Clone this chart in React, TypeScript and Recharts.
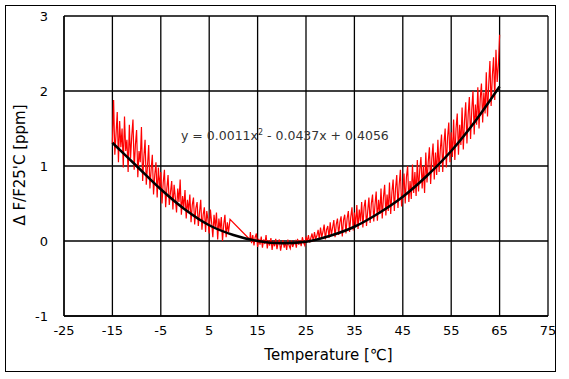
import { LineChart, Line, XAxis, YAxis, CartesianGrid } from "recharts";

// measured drift, [temperature °C, ppm]
const measured: [number, number][] = [
    [-15, 1.3], [-14.75, 1.88], [-14.5, 1.15], [-14.25, 1.42], [-14, 1.72], [-13.75, 1.05], [-13.5, 1.6], [-13.25, 1.25], [-13, 1.5], [-12.75, 0.98],
    [-12.5, 1.66], [-12.25, 1.2], [-12, 1.35], [-11.75, 0.92], [-11.5, 1.55], [-11.25, 1.1], [-11, 1.4], [-10.75, 1.62], [-10.5, 0.95], [-10.25, 1.28],
    [-10, 1.48], [-9.75, 0.85], [-9.5, 1.2], [-9.25, 1.05], [-9, 1.52], [-8.75, 0.8], [-8.5, 1.12], [-8.25, 1.35], [-8, 0.75], [-7.75, 1.0],
    [-7.5, 1.28], [-7.25, 0.7], [-7, 0.95], [-6.75, 1.15], [-6.5, 0.62], [-6.25, 0.88], [-6, 1.05], [-5.75, 0.58], [-5.5, 0.98], [-5.25, 0.72],
    [-5, 0.92], [-4.75, 0.5], [-4.5, 0.78], [-4.25, 0.95], [-4, 0.45], [-3.75, 0.7], [-3.5, 0.88], [-3.25, 0.48], [-3, 0.65], [-2.75, 0.8],
    [-2.5, 0.42], [-2.25, 0.75], [-2, 0.58], [-1.75, 0.38], [-1.5, 0.7], [-1.25, 0.52], [-1, 0.82], [-0.75, 0.35], [-0.5, 0.6], [-0.25, 0.45],
    [0, 0.68], [0.25, 0.3], [0.5, 0.55], [0.75, 0.4], [1, 0.62], [1.25, 0.25], [1.5, 0.48], [1.75, 0.58], [2, 0.22], [2.25, 0.44],
    [2.5, 0.52], [2.75, 0.2], [3, 0.38], [3.25, 0.55], [3.5, 0.15], [3.75, 0.35], [4, 0.45], [4.25, 0.12], [4.5, 0.4], [4.75, 0.28],
    [5, 0.1], [5.25, 0.42], [5.5, 0.25], [5.75, 0.05], [6, 0.35], [6.25, 0.18], [6.5, 0.38], [6.75, 0.02], [7, 0.3], [7.25, 0.15],
    [7.5, 0.32], [7.75, 0.0], [8, 0.22], [8.25, 0.35], [8.5, 0.05], [8.75, 0.25], [9, 0.12], [9.3, 0.29],
    [13.4, 0.02], [13.5, 0.12], [13.75, -0.03], [14, 0.08], [14.25, -0.06], [14.5, 0.05], [14.75, 0.1], [15, -0.08], [15.25, 0.03],
    [15.5, -0.05], [15.75, 0.06], [16, -0.09], [16.25, 0.02], [16.5, -0.04], [16.75, 0.08], [17, -0.1], [17.25, 0.01], [17.5, -0.06], [17.75, 0.04],
    [18, -0.12], [18.25, 0.0], [18.5, -0.07], [18.75, 0.03], [19, -0.11], [19.25, -0.02], [19.5, 0.02], [19.75, -0.13], [20, -0.04], [20.25, 0.01],
    [20.5, -0.09], [20.75, -0.01], [21, -0.12], [21.25, 0.02], [21.5, -0.06], [21.75, -0.1], [22, 0.01], [22.25, -0.08], [22.5, -0.03], [22.75, 0.0],
    [23, -0.09], [23.25, 0.03], [23.5, -0.05], [23.75, 0.01], [24, -0.07], [24.25, 0.05], [24.5, -0.02], [24.75, -0.06], [25, 0.06], [25.25, -0.01],
    [25.5, 0.08], [25.75, -0.02], [26, 0.04], [26.25, 0.1], [26.5, -0.01], [26.75, 0.12], [27, 0.03], [27.25, 0.07], [27.5, 0.15], [27.75, 0.02],
    [28, 0.18], [28.25, 0.05], [28.5, 0.12], [28.75, 0.22], [29, 0.02], [29.25, 0.15], [29.5, 0.2], [29.75, 0.04], [30, 0.25], [30.25, 0.08],
    [30.5, 0.18], [30.75, 0.28], [31, 0.05], [31.25, 0.22], [31.5, 0.3], [31.75, 0.08], [32, 0.25], [32.25, 0.33], [32.5, 0.06], [32.75, 0.28],
    [33, 0.35], [33.25, 0.1], [33.5, 0.3], [33.75, 0.4], [34, 0.12], [34.25, 0.32], [34.5, 0.45], [34.75, 0.14], [35, 0.38], [35.25, 0.2],
    [35.5, 0.48], [35.75, 0.16], [36, 0.42], [36.25, 0.26], [36.5, 0.52], [36.75, 0.18], [37, 0.45], [37.25, 0.55], [37.5, 0.2], [37.75, 0.4],
    [38, 0.58], [38.25, 0.24], [38.5, 0.5], [38.75, 0.62], [39, 0.26], [39.25, 0.48], [39.5, 0.66], [39.75, 0.27], [40, 0.55], [40.25, 0.36],
    [40.5, 0.7], [40.75, 0.3], [41, 0.58], [41.25, 0.75], [41.5, 0.34], [41.75, 0.62], [42, 0.4], [42.25, 0.78], [42.5, 0.36], [42.75, 0.65],
    [43, 0.82], [43.25, 0.4], [43.5, 0.7], [43.75, 0.88], [44, 0.44], [44.25, 0.75], [44.5, 0.95], [44.75, 0.46], [45, 0.68], [45.25, 0.9],
    [45.5, 0.5], [45.75, 0.85], [46, 1.0], [46.25, 0.52], [46.5, 0.8], [46.75, 0.56], [47, 1.02], [47.25, 0.64], [47.5, 0.92], [47.75, 0.6],
    [48, 1.08], [48.25, 0.66], [48.5, 0.95], [48.75, 1.12], [49, 0.7], [49.25, 1.0], [49.5, 0.64], [49.75, 1.18], [50, 0.78], [50.25, 1.05],
    [50.5, 1.25], [50.75, 0.76], [51, 1.1], [51.25, 1.3], [51.5, 0.82], [51.75, 1.18], [52, 0.88], [52.25, 1.35], [52.5, 0.92], [52.75, 1.22],
    [53, 1.42], [53.25, 0.92], [53.5, 1.3], [53.75, 1.5], [54, 0.98], [54.25, 1.38], [54.5, 1.58], [54.75, 1.05], [55, 1.45], [55.25, 1.12],
    [55.5, 1.62], [55.75, 1.08], [56, 1.5], [56.25, 1.7], [56.5, 1.15], [56.75, 1.55], [57, 1.28], [57.25, 1.78], [57.5, 1.22], [57.75, 1.6],
    [58, 1.85], [58.25, 1.3], [58.5, 1.68], [58.75, 1.92], [59, 1.36], [59.25, 1.75], [59.5, 2.0], [59.75, 1.42], [60, 1.82], [60.25, 1.55],
    [60.5, 2.05], [60.75, 1.5], [61, 1.9], [61.25, 2.1], [61.5, 1.58], [61.75, 1.98], [62, 1.7], [62.25, 2.25], [62.5, 1.66], [62.75, 2.08],
    [63, 2.4], [63.25, 1.8], [63.5, 2.2], [63.75, 2.45], [64, 1.88], [64.25, 2.55], [64.5, 2.12], [64.75, 2.35], [65, 2.75],
];

// polynomial trend line as drawn
const trend: [number, number][] = [
    [-15, 1.31], [-10, 1.0], [-5, 0.69], [0, 0.42], [5, 0.21], [10, 0.08], [15, 0.0], [20, -0.03],
    [25, -0.01], [30, 0.07], [35, 0.19], [40, 0.37], [45, 0.59], [50, 0.87], [55, 1.2], [60, 1.6],
    [65, 2.06],
];

const xTicks = [-25, -15, -5, 5, 15, 25, 35, 45, 55, 65, 75];
const yTicks = [-1, 0, 1, 2, 3];

const measuredData = measured.map(([t, v]) => ({ t, v }));
const trendData = trend.map(([t, v]) => ({ t, v }));

const font = "'DejaVu Sans', sans-serif";

export default function App() {
    return (
        <div style={{ position: "absolute", left: 0, top: 0, width: 569, height: 379, background: "#fff", fontFamily: font }}>
            <div style={{ position: "absolute", left: 5, top: 5, width: 549, height: 365, border: "1.5px solid #000" }} />
            <LineChart
                width={569}
                height={379}
                margin={{ top: 16, right: 21, bottom: 23, left: 4 }}
                style={{ position: "absolute", left: 0, top: 0 }}
            >
                <CartesianGrid stroke="#000" strokeWidth={1.3} horizontalValues={yTicks} verticalValues={xTicks} />
                <XAxis
                    type="number"
                    dataKey="t"
                    domain={[-25, 75]}
                    ticks={xTicks}
                    height={40}
                    tickLine={false}
                    axisLine={{ stroke: "#000", strokeWidth: 1.3 }}
                    tickSize={0}
                    tickMargin={10}
                    tick={{ fontSize: 13, fill: "#000", fontFamily: font }}
                />
                <YAxis
                    type="number"
                    domain={[-1, 3]}
                    ticks={yTicks}
                    width={60}
                    tickLine={false}
                    axisLine={{ stroke: "#000", strokeWidth: 1.3 }}
                    tickSize={0}
                    tickMargin={16}
                    tick={{ fontSize: 13, fill: "#000", fontFamily: font }}
                />
                <Line data={measuredData} dataKey="v" stroke="#ff0000" strokeWidth={1.2} dot={false} isAnimationActive={false} />
                <Line data={trendData} dataKey="v" type="monotone" stroke="#000" strokeWidth={2.5} dot={false} isAnimationActive={false} />
            </LineChart>
            <div style={{ position: "absolute", left: 181, top: 128, fontSize: 12.5, color: "#333", whiteSpace: "nowrap" }}>
                y = 0.0011x<sup style={{ fontSize: 8 }}>2</sup> - 0.0437x + 0.4056
            </div>
            <div style={{ position: "absolute", left: 0, width: 569, top: 346, textAlign: "center", fontSize: 15, paddingLeft: 44 }}>
                Temperature [℃]
            </div>
            <div
                style={{
                    position: "absolute",
                    left: 20,
                    top: 165,
                    transform: "translate(-50%, -50%) rotate(-90deg)",
                    fontSize: 15,
                    whiteSpace: "nowrap",
                }}
            >
                Δ F/F25'C [ppm]
            </div>
        </div>
    );
}
